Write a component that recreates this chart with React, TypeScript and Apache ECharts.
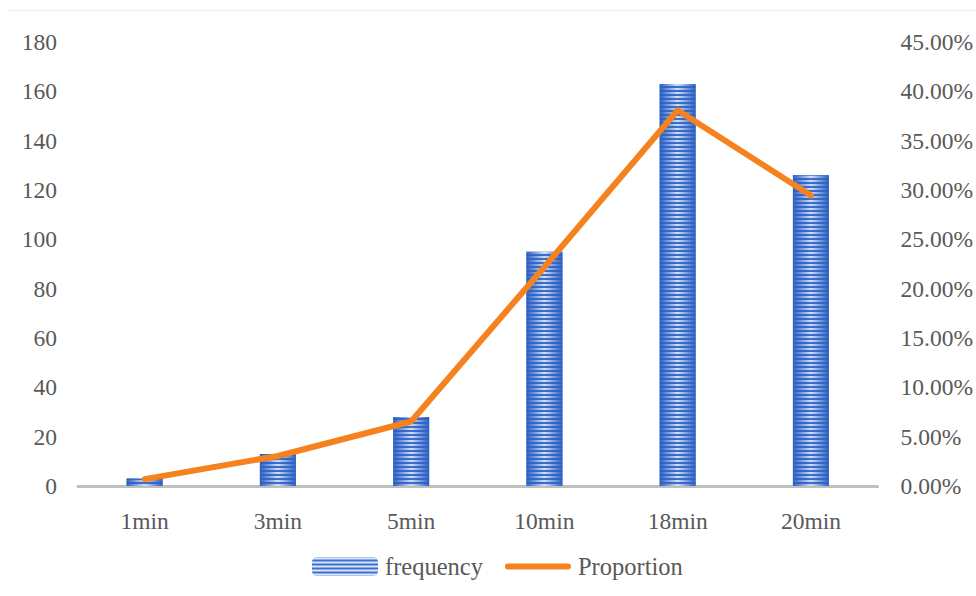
import React, { useEffect, useRef } from "react";
import * as echarts from "echarts";

// Waiting-time buckets and their observed counts
const categories = ["1min", "3min", "5min", "10min", "18min", "20min"];
const frequency = [3, 13, 28, 95, 163, 126];
// Share of all observations in each bucket
const proportion = [0.007, 0.0304, 0.0654, 0.222, 0.3808, 0.2944];

const leftTicks = { min: 0, max: 180, interval: 20 };
const rightTicks = { min: 0, max: 0.45, interval: 0.05 };

const FONT = "'Liberation Serif', 'Times New Roman', serif";
const TEXT = "#595959";
const BLUE = "#3c70cf";
const ORANGE = "#f5821f";
const FS = 23.5;

export default function App() {
  const ref = useRef<HTMLDivElement>(null);

  useEffect(() => {
    if (!ref.current) return;
    const chart = echarts.init(ref.current, undefined, { renderer: "svg" });

    const option: echarts.EChartsOption = {
      animation: false,
      backgroundColor: "#ffffff",
      textStyle: { fontFamily: FONT, color: TEXT },
      grid: { left: 78, right: 97, top: 42, bottom: 110, containLabel: false },
      legend: {
        data: [
          { name: "frequency" },
          {
            name: "Proportion",
            icon: "path://M3,0 H63 A3,3 0 0 1 63,6 H3 A3,3 0 0 1 3,0 Z",
            itemStyle: { color: ORANGE },
          },
        ],
        left: 312,
        top: 554,
        padding: 0,
        itemWidth: 66,
        itemHeight: 18,
        itemGap: 22,
        textStyle: { fontFamily: FONT, fontSize: 24.5, color: TEXT, padding: [0, 0, 0, 2] },
      },
      xAxis: {
        type: "category",
        data: categories,
        axisLine: { lineStyle: { color: "#bfbfbf", width: 3 } },
        axisTick: { show: false },
        axisLabel: { fontFamily: FONT, fontSize: FS, color: TEXT, margin: 23 },
      },
      yAxis: [
        {
          type: "value",
          ...leftTicks,
          axisLine: { show: false },
          axisTick: { show: false },
          splitLine: { show: false },
          axisLabel: { fontFamily: FONT, fontSize: FS, color: TEXT, margin: 21 },
        },
        {
          type: "value",
          ...rightTicks,
          axisLine: { show: false },
          axisTick: { show: false },
          splitLine: { show: false },
          axisLabel: {
            fontFamily: FONT,
            fontSize: FS,
            color: TEXT,
            margin: 23,
            formatter: (v: number) => (v * 100).toFixed(2) + "%",
          },
        },
      ],
      series: [
        {
          name: "frequency",
          type: "bar",
          data: frequency,
          barWidth: 36,
          barGap: "-100%",
          itemStyle: {
            color: BLUE,
            decal: {
              symbol: "rect",
              symbolSize: 1,
              dashArrayX: [1, 0],
              dashArrayY: [1.5, 1.5],
              rotation: 0,
              color: "rgba(236,243,255,0.9)",
            },
          },
        },
        {
          // darkens the stripes towards each bar's edges
          type: "bar",
          data: frequency,
          barWidth: 36,
          silent: true,
          itemStyle: {
            color: {
              type: "linear",
              x: 0,
              y: 0,
              x2: 1,
              y2: 0,
              colorStops: [
                { offset: 0, color: "rgba(44,96,194,1)" },
                { offset: 0.5, color: "rgba(44,96,194,0.05)" },
                { offset: 1, color: "rgba(44,96,194,1)" },
              ],
            },
          },
        },
        {
          name: "Proportion",
          type: "line",
          yAxisIndex: 1,
          data: proportion,
          symbol: "none",
          z: 5,
          lineStyle: { color: ORANGE, width: 6, cap: "round", join: "round" },
          itemStyle: { color: ORANGE },
        },
      ],
      graphic: [
        {
          type: "line",
          shape: { x1: 7, y1: 10.5, x2: 976, y2: 10.5 },
          style: { stroke: "#f1f1f9", lineWidth: 1.5 },
          silent: true,
        },
        {
          type: "line",
          shape: { x1: 7.5, y1: 10, x2: 7.5, y2: 596 },
          style: {
            lineWidth: 2,
            stroke: {
              type: "linear",
              x: 0,
              y: 0,
              x2: 0,
              y2: 1,
              colorStops: [
                { offset: 0, color: "#f4f4fb" },
                { offset: 0.45, color: "#dfe4f5" },
                { offset: 1, color: "#a7bfea" },
              ],
            } as any,
          },
          silent: true,
        },
      ],
    };

    chart.setOption(option);
    return () => chart.dispose();
  }, []);

  return (
    <div
      ref={ref}
      style={{ position: "fixed", left: 0, top: 0, width: 976, height: 596 }}
    />
  );
}
